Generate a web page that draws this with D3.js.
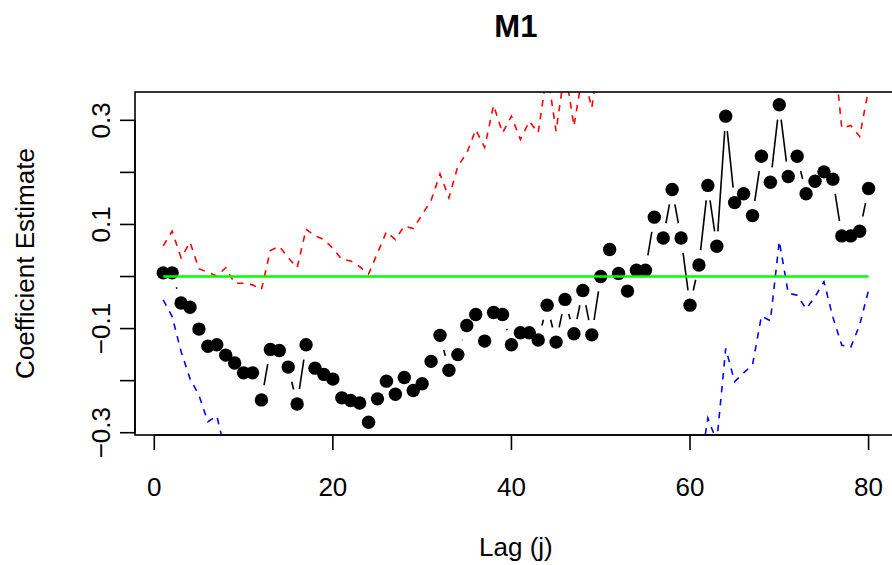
<!DOCTYPE html>
<html>
<head>
<meta charset="utf-8">
<script src="https://cdn.jsdelivr.net/npm/d3@7"></script>
<style>
  html, body { margin: 0; padding: 0; background: #fff; }
  svg { display: block; font-family: 'Liberation Sans', Arial, sans-serif; }
</style>
</head>
<body>
<div id="chart"></div>
<script>
// lag-by-lag estimates
const lags = d3.range(1, 81)

const coef = [
  0.007, 0.007, -0.051, -0.059, -0.101, -0.134, -0.131, -0.151, -0.166, -0.185,
  -0.185, -0.237, -0.140, -0.142, -0.174, -0.245, -0.131, -0.176, -0.188, -0.197,
  -0.233, -0.238, -0.243, -0.280, -0.235, -0.201, -0.226, -0.194, -0.219, -0.206,
  -0.163, -0.113, -0.180, -0.150, -0.094, -0.073, -0.124, -0.069, -0.073, -0.131,
  -0.108, -0.108, -0.122, -0.055, -0.126, -0.044, -0.110, -0.027, -0.112, 0.000,
  0.052, 0.006, -0.028, 0.012, 0.012, 0.114, 0.074, 0.167, 0.074, -0.055,
  0.022, 0.175, 0.058, 0.308, 0.142, 0.159, 0.117, 0.231, 0.181, 0.330,
  0.192, 0.231, 0.159, 0.183, 0.201, 0.187, 0.078, 0.078, 0.087, 0.169,
]

const upper = [
  0.059, 0.087, 0.036, 0.066, 0.015, 0.008, 0.001, 0.017, -0.013, -0.013,
  -0.016, -0.025, 0.050, 0.058, 0.036, 0.017, 0.091, 0.078, 0.071, 0.054,
  0.033, 0.030, 0.019, 0.005, 0.045, 0.086, 0.071, 0.097, 0.092, 0.119,
  0.146, 0.197, 0.151, 0.212, 0.237, 0.282, 0.248, 0.329, 0.276, 0.308,
  0.263, 0.298, 0.276, 0.395, 0.279, 0.400, 0.289, 0.393, 0.324, 0.440,
  0.490, 0.460, 0.430, 0.450, 0.470, 0.550, 0.520, 0.600, 0.520, 0.410,
  0.480, 0.620, 0.510, 0.740, 0.580, 0.600, 0.550, 0.660, 0.610, 0.760,
  0.600, 0.630, 0.550, 0.570, 0.580, 0.456, 0.285, 0.290, 0.269, 0.360,
]

const lower = [
  -0.045, -0.077, -0.144, -0.196, -0.228, -0.279, -0.268, -0.339, -0.350, -0.370,
  -0.360, -0.430, -0.340, -0.350, -0.390, -0.470, -0.360, -0.410, -0.430, -0.450,
  -0.490, -0.510, -0.520, -0.570, -0.520, -0.490, -0.520, -0.490, -0.530, -0.520,
  -0.470, -0.420, -0.510, -0.490, -0.420, -0.420, -0.470, -0.430, -0.420, -0.500,
  -0.460, -0.470, -0.480, -0.430, -0.500, -0.430, -0.500, -0.410, -0.500, -0.390,
  -0.350, -0.400, -0.440, -0.400, -0.410, -0.340, -0.380, -0.340, -0.400, -0.520,
  -0.381, -0.272, -0.317, -0.138, -0.202, -0.185, -0.170, -0.076, -0.085, 0.068,
  -0.032, -0.036, -0.062, -0.039, -0.010, -0.078, -0.132, -0.136, -0.093, -0.026,
]

const xTicks = [0, 20, 40, 60, 80]
const yTicks = [-0.3, -0.2, -0.1, 0, 0.1, 0.2, 0.3]
const yLabelled = [-0.3, -0.1, 0.1, 0.3]

const width = 892
const height = 565
const plot = { left: 135, right: 896.8, top: 92, bottom: 435 }

const svg = d3.select('#chart')
  .append('svg')
  .attr('width', width)
  .attr('height', height)

// R-style 4% padding on both axes
const pad = (lo, hi) => [lo - 0.04 * (hi - lo), hi + 0.04 * (hi - lo)]
const [cMin, cMax] = d3.extent(coef)

const x = d3.scaleLinear()
  .domain(pad(1, 80))
  .range([plot.left, plot.right])

const y = d3.scaleLinear()
  .domain(pad(cMin, cMax))
  .range([plot.bottom, plot.top])

svg.append('defs').append('clipPath').attr('id', 'plot-clip')
  .append('rect')
  .attr('x', plot.left).attr('y', plot.top)
  .attr('width', plot.right - plot.left).attr('height', plot.bottom - plot.top)

const g = svg.append('g').attr('clip-path', 'url(#plot-clip)')

// type = "b": segments shortened around each point
const gap = 15
for (let i = 0; i < lags.length - 1; i++) {
  const x1 = x(lags[i]), y1 = y(coef[i])
  const x2 = x(lags[i + 1]), y2 = y(coef[i + 1])
  const d = Math.hypot(x2 - x1, y2 - y1)
  if (d <= 2 * gap) continue
  const ux = (x2 - x1) / d, uy = (y2 - y1) / d
  g.append('line')
    .attr('x1', x1 + ux * gap).attr('y1', y1 + uy * gap)
    .attr('x2', x2 - ux * gap).attr('y2', y2 - uy * gap)
    .attr('stroke', '#000').attr('stroke-width', 1.6)
}

g.selectAll('circle.pt')
  .data(lags)
  .join('circle')
  .attr('class', 'pt')
  .attr('cx', d => x(d))
  .attr('cy', (d, i) => y(coef[i]))
  .attr('r', 6.7)
  .attr('fill', '#000')

const line = d3.line()
  .x(d => x(d[0]))
  .y(d => y(d[1]))

g.append('path')
  .attr('d', line(lags.map((l, i) => [l, upper[i]])))
  .attr('fill', 'none').attr('stroke', '#ff0000')
  .attr('stroke-width', 1.6).attr('stroke-dasharray', '6.5,6.5')

g.append('path')
  .attr('d', line(lags.map((l, i) => [l, lower[i]])))
  .attr('fill', 'none').attr('stroke', '#0000ff')
  .attr('stroke-width', 1.6).attr('stroke-dasharray', '6.5,6.5')

g.append('path')
  .attr('d', line(lags.map(l => [l, 0])))
  .attr('fill', 'none').attr('stroke', '#00ff00')
  .attr('stroke-width', 2.4)

// box
svg.append('rect')
  .attr('x', plot.left).attr('y', plot.top)
  .attr('width', plot.right - plot.left).attr('height', plot.bottom - plot.top)
  .attr('fill', 'none').attr('stroke', '#000').attr('stroke-width', 1.6)

const tickLen = 15

// x axis
svg.append('line')
  .attr('x1', x(xTicks[0])).attr('x2', x(xTicks[xTicks.length - 1]))
  .attr('y1', plot.bottom).attr('y2', plot.bottom)
  .attr('stroke', '#000').attr('stroke-width', 1.6)

xTicks.forEach(t => {
  svg.append('line')
    .attr('x1', x(t)).attr('x2', x(t))
    .attr('y1', plot.bottom).attr('y2', plot.bottom + tickLen)
    .attr('stroke', '#000').attr('stroke-width', 1.6)
  svg.append('text')
    .attr('x', x(t)).attr('y', 496)
    .attr('text-anchor', 'middle')
    .attr('font-size', '26px').attr('fill', '#000')
    .text(t)
})

// y axis
svg.append('line')
  .attr('x1', plot.left).attr('x2', plot.left)
  .attr('y1', y(yTicks[0])).attr('y2', y(yTicks[yTicks.length - 1]))
  .attr('stroke', '#000').attr('stroke-width', 1.6)

yTicks.forEach(t => {
  svg.append('line')
    .attr('x1', plot.left - tickLen).attr('x2', plot.left)
    .attr('y1', y(t)).attr('y2', y(t))
    .attr('stroke', '#000').attr('stroke-width', 1.6)
})

yLabelled.forEach(t => {
  svg.append('text')
    .attr('transform', `translate(110, ${y(t)}) rotate(-90)`)
    .attr('text-anchor', 'middle')
    .attr('font-size', '26px').attr('fill', '#000')
    .text(d3.format('.1f')(t).replace('-', '\u2212'))
})

// titles
svg.append('text')
  .attr('x', (plot.left + plot.right) / 2).attr('y', 37)
  .attr('text-anchor', 'middle')
  .attr('font-size', '31px').attr('font-weight', 'bold')
  .text('M1')

svg.append('text')
  .attr('x', (plot.left + plot.right) / 2).attr('y', 556)
  .attr('text-anchor', 'middle')
  .attr('font-size', '26px')
  .text('Lag (j)')

svg.append('text')
  .attr('transform', `translate(34, ${(plot.top + plot.bottom) / 2}) rotate(-90)`)
  .attr('text-anchor', 'middle')
  .attr('font-size', '26px')
  .text('Coefficient Estimate')
</script>
</body>
</html>
